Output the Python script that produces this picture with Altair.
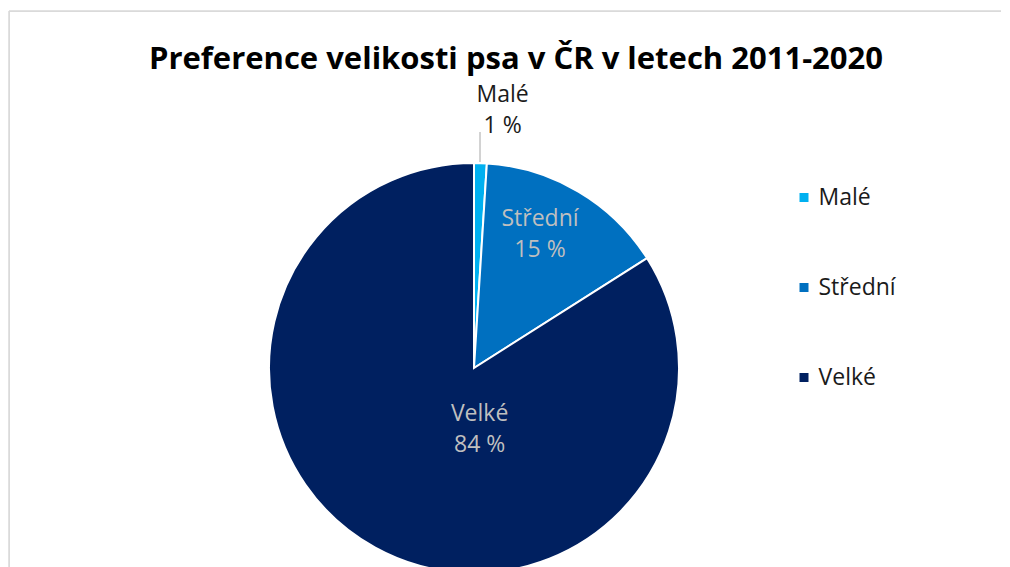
import altair as alt
import pandas as pd

categories = ["Malé", "Střední", "Velké"]
values = [1, 15, 84]
pct_labels = ["1 %", "15 %", "84 %"]
colors = ["#00B0F0", "#0070C0", "#002060"]

df = pd.DataFrame({
    "kategorie": categories,
    "hodnota": values,
    "label": [f"{c}\n{p}" for c, p in zip(categories, pct_labels)],
    "poradi": list(range(len(categories))),
})
TOTAL = sum(values)

FONT = "Open Sans"
W, H = 992, 600
CX, CY, R = 465, 357, 205
theta_scale = alt.Scale(domain=[0, TOTAL])

pie = alt.Chart(df).mark_arc(stroke="white", strokeWidth=2).encode(
    theta=alt.Theta("hodnota:Q", stack=True, scale=theta_scale),
    order=alt.Order("poradi:Q"),
    x=alt.value(CX), y=alt.value(CY),
    radius=alt.value(R),
    color=alt.Color(
        "kategorie:N",
        scale=alt.Scale(domain=categories, range=colors),
        sort=categories,
        legend=alt.Legend(
            title=None, orient="none", legendX=783.5, legendY=175,
            symbolType="square", symbolSize=81, symbolStrokeWidth=0,
            labelFontSize=23, labelFont=FONT, labelColor="#1a1a1a",
            labelOffset=3, rowPadding=66,
        ),
    ),
)

stacked = alt.Chart(df).transform_window(
    s1="sum(hodnota)", sort=[alt.SortField("poradi")], frame=[None, 0]
).transform_calculate(mid="datum.s1 - datum.hodnota / 2")


def label_layer(cat, radius, color, dx=0, dy=0):
    return stacked.transform_filter(alt.datum.kategorie == cat).mark_text(
        lineBreak="\n", fontSize=23, font=FONT, color=color,
        align="center", baseline="middle", lineHeight=31, dx=dx, dy=dy,
    ).encode(
        theta=alt.Theta("mid:Q", stack=None, scale=theta_scale),
        x=alt.value(CX), y=alt.value(CY),
        radius=alt.value(radius),
        text="label:N",
    )


lbl_male = label_layer("Malé", 276, "#1a1a1a", dx=20, dy=3)
lbl_stredni = label_layer("Střední", 165, "#BFBFBF", dx=-18, dy=-7)
lbl_velke = label_layer("Velké", 34, "#BFBFBF", dx=22, dy=16)

leader = alt.Chart(df.head(1)).mark_rule(color="#A6A6A6", strokeWidth=1).encode(
    x=alt.value(471), y=alt.value(121), y2=alt.value(151)
)
border_top = alt.Chart(df.head(1)).mark_rule(color="#D9D9D9", strokeWidth=1.5).encode(
    x=alt.value(0), x2=alt.value(W), y=alt.value(0)
)
border_left = alt.Chart(df.head(1)).mark_rule(color="#D9D9D9", strokeWidth=1.5).encode(
    x=alt.value(0), y=alt.value(0), y2=alt.value(H)
)

chart = alt.layer(
    border_top, border_left, pie, leader, lbl_male, lbl_stredni, lbl_velke
).properties(
    width=W, height=H,
    padding={"left": 1, "top": 3, "right": 0, "bottom": 0},
    autosize=alt.AutoSizeParams(type="none"),
    title=alt.TitleParams(
        "Preference velikosti psa v ČR v letech 2011-2020",
        font=FONT, fontSize=31, fontWeight="bold", color="#000000",
        anchor="middle", baseline="alphabetic", dx=11, dy=94,
    ),
).configure_view(stroke=None).configure(background="white")

chart.save("out.html", embed_options={"renderer": "svg", "actions": False})
